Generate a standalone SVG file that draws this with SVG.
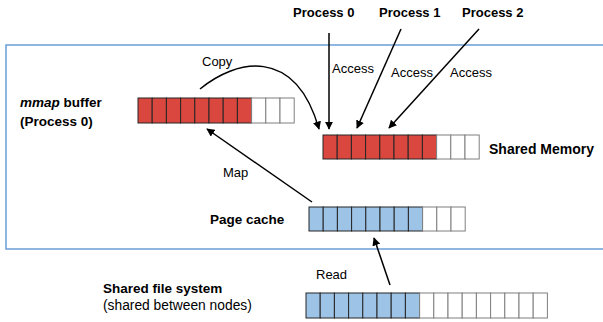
<svg xmlns="http://www.w3.org/2000/svg" width="603" height="322" viewBox="0 0 603 322">
<style>
text{font-family:"Liberation Sans",Arial,sans-serif;font-size:13px;fill:#000}
.b{font-weight:bold;font-size:13.5px}
.r{fill:#d9473f;stroke:#262626;stroke-width:1}
.u{fill:#9dc3e6;stroke:#262626;stroke-width:1}
.w{fill:#fff;stroke:#7f7f7f;stroke-width:1}
.c{fill:none;stroke:#000;stroke-width:1.5}
</style>
<defs>
<marker id="ah" viewBox="0 0 10 10" refX="9" refY="5" markerWidth="5.5" markerHeight="5.5" orient="auto" markerUnits="strokeWidth">
<path d="M0,0 L10,5 L0,10 z" fill="#000"/>
</marker>
</defs>
<rect x="6" y="45" width="620" height="204" fill="none" stroke="#6a9fd8" stroke-width="1.5"/>

<g id="mmap">
<text x="20" y="107" class="b"><tspan font-style="italic">mmap</tspan> buffer</text>
<text x="20" y="126" class="b">(Process 0)</text>
<rect class="r" x="138" y="98" width="14.2" height="25"/><rect class="r" x="152.2" y="98" width="14.2" height="25"/><rect class="r" x="166.4" y="98" width="14.2" height="25"/><rect class="r" x="180.6" y="98" width="14.2" height="25"/><rect class="r" x="194.8" y="98" width="14.2" height="25"/><rect class="r" x="209" y="98" width="14.2" height="25"/><rect class="r" x="223.2" y="98" width="14.2" height="25"/><rect class="r" x="237.4" y="98" width="14.2" height="25"/>
<rect class="w" x="251.6" y="98" width="14.2" height="25"/><rect class="w" x="265.8" y="98" width="14.2" height="25"/><rect class="w" x="280" y="98" width="14.2" height="25"/>
</g>

<g id="shm">
<text x="489" y="154" class="b" style="font-size:14px">Shared Memory</text>
<rect class="r" x="323" y="135" width="14.2" height="24"/><rect class="r" x="337.2" y="135" width="14.2" height="24"/><rect class="r" x="351.4" y="135" width="14.2" height="24"/><rect class="r" x="365.6" y="135" width="14.2" height="24"/><rect class="r" x="379.8" y="135" width="14.2" height="24"/><rect class="r" x="394" y="135" width="14.2" height="24"/><rect class="r" x="408.2" y="135" width="14.2" height="24"/><rect class="r" x="422.4" y="135" width="14.2" height="24"/>
<rect class="w" x="436.6" y="135" width="14.2" height="24"/><rect class="w" x="450.8" y="135" width="14.2" height="24"/><rect class="w" x="465" y="135" width="14.2" height="24"/>
</g>

<g id="pagecache">
<text x="210" y="224" class="b">Page cache</text>
<rect class="u" x="309" y="207" width="14.2" height="24"/><rect class="u" x="323.2" y="207" width="14.2" height="24"/><rect class="u" x="337.4" y="207" width="14.2" height="24"/><rect class="u" x="351.6" y="207" width="14.2" height="24"/><rect class="u" x="365.8" y="207" width="14.2" height="24"/><rect class="u" x="380" y="207" width="14.2" height="24"/><rect class="u" x="394.2" y="207" width="14.2" height="24"/><rect class="u" x="408.4" y="207" width="14.2" height="24"/>
<rect class="w" x="422.6" y="207" width="14.2" height="24"/><rect class="w" x="436.8" y="207" width="14.2" height="24"/><rect class="w" x="451" y="207" width="14.2" height="24"/>
</g>

<g id="fs">
<text x="103" y="293" class="b">Shared file system</text>
<text x="103" y="310" style="font-size:13.8px">(shared between nodes)</text>
<rect class="u" x="306" y="293" width="14.2" height="25"/><rect class="u" x="320.2" y="293" width="14.2" height="25"/><rect class="u" x="334.4" y="293" width="14.2" height="25"/><rect class="u" x="348.6" y="293" width="14.2" height="25"/><rect class="u" x="362.8" y="293" width="14.2" height="25"/><rect class="u" x="377" y="293" width="14.2" height="25"/><rect class="u" x="391.2" y="293" width="14.2" height="25"/><rect class="u" x="405.4" y="293" width="14.2" height="25"/>
<rect class="w" x="419.6" y="293" width="14.2" height="25"/><rect class="w" x="433.8" y="293" width="14.2" height="25"/><rect class="w" x="448" y="293" width="14.2" height="25"/><rect class="w" x="462.2" y="293" width="14.2" height="25"/><rect class="w" x="476.4" y="293" width="14.2" height="25"/><rect class="w" x="490.6" y="293" width="14.2" height="25"/><rect class="w" x="504.8" y="293" width="14.2" height="25"/><rect class="w" x="519" y="293" width="14.2" height="25"/><rect class="w" x="533.2" y="293" width="14.2" height="25"/>
</g>

<g id="p0"><text x="293" y="17" class="b" style="font-size:13px">Process 0</text></g>
<g id="p1"><text x="379" y="17" class="b" style="font-size:13px">Process 1</text></g>
<g id="p2"><text x="462" y="17" class="b" style="font-size:13px">Process 2</text></g>

<g id="connectors">
<path class="c" d="M200,89 C235,60 295,45 319,129" marker-end="url(#ah)"/>
<text x="202" y="66">Copy</text>
<line class="c" x1="329" y1="33" x2="329" y2="129" marker-end="url(#ah)"/>
<text x="332" y="73">Access</text>
<line class="c" x1="401" y1="29" x2="357" y2="128" marker-end="url(#ah)"/>
<text x="391" y="77">Access</text>
<line class="c" x1="479" y1="29" x2="389" y2="128" marker-end="url(#ah)"/>
<text x="450" y="77">Access</text>
<line class="c" x1="312" y1="202" x2="207" y2="129" marker-end="url(#ah)"/>
<text x="223" y="177">Map</text>
<line class="c" x1="390" y1="285" x2="374" y2="238" marker-end="url(#ah)"/>
<text x="316" y="279">Read</text>
</g>
</svg>
